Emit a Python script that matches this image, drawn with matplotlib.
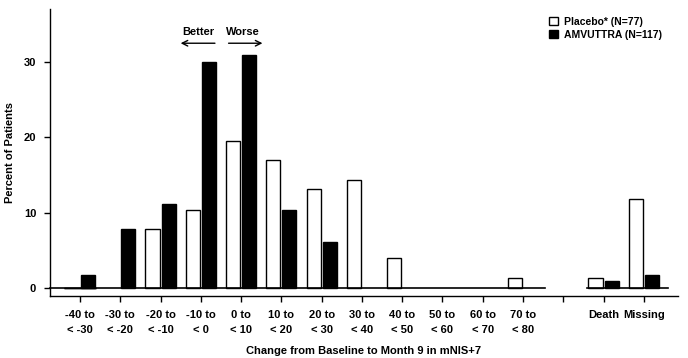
import numpy as np
import matplotlib.pyplot as plt

plt.rcParams['font.family'] = ['Liberation Sans', 'DejaVu Sans']
plt.rcParams['font.weight'] = 'bold'
plt.rcParams['axes.labelweight'] = 'bold'

# ----- Data -----
categories = ["-40 to\n< -30", "-30 to\n< -20", "-20 to\n< -10", "-10 to\n< 0",
              "0 to\n< 10", "10 to\n< 20", "20 to\n< 30", "30 to\n< 40",
              "40 to\n< 50", "50 to\n< 60", "60 to\n< 70", "70 to\n< 80",
              "", "Death", "Missing"]
placebo = [0, 0, 7.9, 10.4, 19.5, 17.0, 13.1, 14.3, 4.0, 0, 0, 1.4, 0, 1.4, 11.8]
amvuttra = [1.8, 7.8, 11.2, 30.0, 30.9, 10.3, 6.1, 0, 0, 0, 0, 0, 0, 1.0, 1.8]

x = np.arange(len(categories))
w = 0.35
off = 0.2

fig = plt.figure(figsize=(6.88, 3.58), dpi=100)
ax = fig.add_axes([0.0727, 0.173, 0.9123, 0.802])

for i in x:
    if i == 12:
        continue
    if placebo[i] > 0:
        ax.bar(i - off, placebo[i], w, color="white", edgecolor="black", linewidth=1.0, zorder=3)
    if amvuttra[i] > 0:
        ax.bar(i + off, amvuttra[i], w, color="black", edgecolor="black", linewidth=1.0, zorder=3)

# baseline segments
ax.plot([-0.744, 11.55], [0, 0], color="black", lw=1.2, zorder=4, clip_on=False)
ax.plot([12.6, 14.6], [0, 0], color="black", lw=1.2, zorder=4)

ax.set_xlim(-0.744, 14.84)
ax.set_ylim(-1.06, 37.05)
ax.set_xticks(x)
ax.set_xticklabels(categories, fontsize=8, linespacing=1.6)
ax.set_yticks([0, 10, 20, 30])
ax.set_yticklabels(["0", "10", "20", "30"], fontsize=8)
ax.tick_params(axis="both", direction="out", length=4, width=1.0, pad=6)
for s in ["top", "right"]:
    ax.spines[s].set_visible(False)
ax.spines["left"].set_linewidth(1.0)
ax.spines["bottom"].set_linewidth(1.0)

ax.set_ylabel("Percent of Patients", fontsize=8, labelpad=6)
ax.set_xlabel("Change from Baseline to Month 9 in mNIS+7", fontsize=8, labelpad=8)

# Better / Worse arrows
ax.annotate("", xy=(2.43, 32.5), xytext=(3.42, 32.5),
            arrowprops=dict(arrowstyle="->", lw=1.0, color="black"))
ax.annotate("", xy=(4.6, 32.5), xytext=(3.62, 32.5),
            arrowprops=dict(arrowstyle="->", lw=1.0, color="black"))
ax.text(2.95, 33.3, "Better", ha="center", va="bottom", fontsize=8)
ax.text(4.05, 33.3, "Worse", ha="center", va="bottom", fontsize=8)

# Legend
ax.bar(0, 0, color="white", edgecolor="black", label="Placebo* (N=77)")
ax.bar(0, 0, color="black", edgecolor="black", label="AMVUTTRA (N=117)")
ax.legend(loc="upper right", bbox_to_anchor=(0.99, 1.005), frameon=False, fontsize=7.5,
          handlelength=0.8, handleheight=0.8, handletextpad=0.6, labelspacing=0.3)

fig.savefig("out.png", dpi=100)
